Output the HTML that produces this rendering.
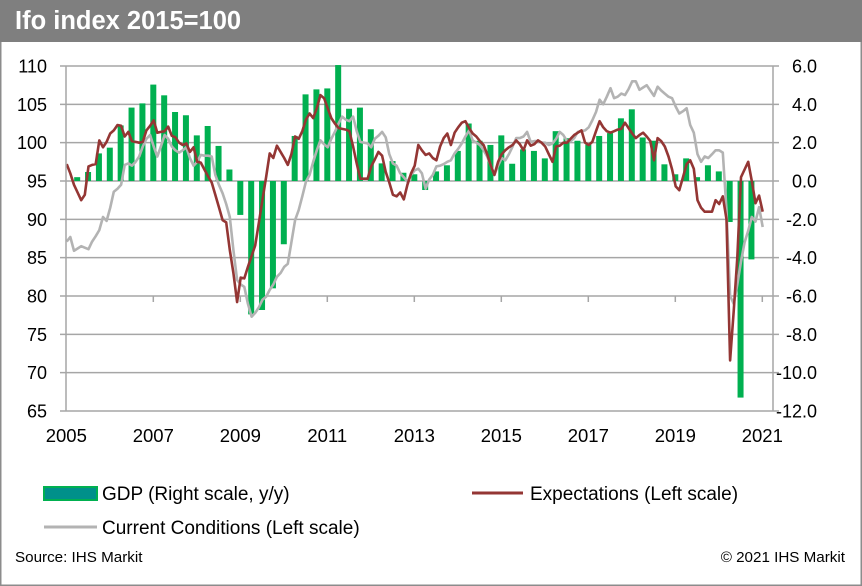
<!DOCTYPE html>
<html><head><meta charset="utf-8"><style>
body{margin:0;background:#fff;}
#wrap{position:relative;width:862px;height:586px;overflow:hidden;font-family:"Liberation Sans",Arial,sans-serif;}
</style></head><body>
<div id="wrap">
<svg id="chart" width="862" height="586" xmlns="http://www.w3.org/2000/svg">
<rect x="0.75" y="0.75" width="860.5" height="584.5" fill="#fff" stroke="#8c8c8c" stroke-width="1.5"/>
<rect x="0" y="0" width="862" height="42" fill="#7f7f7f"/>
<text x="15" y="29" fill="#fff" font-size="25.5" font-weight="bold">Ifo index 2015=100</text>
<g id="grid"></g><g id="bars"></g><g id="lines"></g><g id="axes"></g>
<rect x="44" y="487" width="53" height="13" fill="#00908a" stroke="#00b050" stroke-width="2"/>
<text x="102" y="500" font-size="19">GDP (Right scale, y/y)</text>
<line x1="472" y1="493" x2="523" y2="493" stroke="#943634" stroke-width="3"/>
<text x="530" y="500" font-size="19">Expectations (Left scale)</text>
<line x1="44" y1="527" x2="97" y2="527" stroke="#b3b3b3" stroke-width="3"/>
<text x="102" y="534" font-size="19">Current Conditions (Left scale)</text>
<text x="15" y="562" font-size="15.2">Source: IHS Markit</text>
<text x="845" y="562" font-size="15.2" text-anchor="end">© 2021 IHS Markit</text>
</svg>
</div>
<script>
const leftTicks=[110,105,100,95,90,85,80,75,70,65];
const rightTicks=["6.0","4.0","2.0","0.0","-2.0","-4.0","-6.0","-8.0","-10.0","-12.0"];
const yearLabels=["2005","2007","2009","2011","2013","2015","2017","2019","2021"];
const gdp=[0.2,0.47,1.44,1.74,2.9,3.83,4.05,5.03,4.47,3.6,3.43,2.38,2.87,1.83,0.6,-1.77,-6.96,-6.73,-5.6,-3.3,2.35,4.52,4.78,4.83,6.05,3.77,3.83,2.7,0.92,1.04,0.43,0.35,-0.47,0.5,0.82,1.57,3.0,2.1,1.88,2.38,0.9,1.65,1.57,1.18,2.6,2.23,2.1,1.9,2.35,2.5,3.27,3.74,2.27,2.1,0.87,0.35,1.18,0.2,0.82,0.5,-2.14,-11.3,-4.09];
const expectations=[97.2,96.0,94.5,93.5,92.5,93.2,96.9,97.1,97.2,100.3,99.4,100.1,
101.2,101.6,102.3,102.2,100.8,101.4,100.2,100.1,100.0,100.1,101.6,102.2,
102.9,101.3,101.4,101.5,102.1,100.9,100.7,100.0,99.7,99.9,98.8,99.4,
97.5,97.4,96.5,95.6,94.8,93.2,91.6,89.9,89.6,86.0,83.0,79.2,
82.4,82.3,83.8,85.2,86.6,89.5,92.5,95.5,98.6,98.0,99.6,98.8,
98.0,97.1,98.5,100.8,100.5,101.5,103.0,103.8,103.2,104.5,106.2,105.8,
104.5,103.2,102.5,101.9,101.8,101.7,101.5,99.5,97.3,95.3,95.3,95.3,
96.9,97.8,98.8,98.3,96.2,94.8,93.2,93.0,93.5,92.6,94.5,96.0,
97.0,99.7,99.0,98.4,98.6,98.0,97.7,99.5,100.6,101.2,99.7,101.3,
102.0,102.6,102.8,101.9,101.2,100.8,100.2,99.7,98.5,97.0,95.8,97.5,
98.5,99.0,99.4,99.7,100.3,99.8,99.0,100.3,99.6,99.8,100.3,100.0,
99.5,98.5,97.5,99.5,99.6,100.0,100.0,100.5,101.0,101.3,101.6,100.0,
99.7,100.1,101.5,102.8,102.0,101.5,101.3,101.5,101.7,101.8,102.6,101.9,
101.2,100.6,101.0,101.3,100.8,100.2,97.7,100.6,100.2,99.5,98.2,96.5,
94.3,93.8,95.5,97.2,97.7,96.6,92.5,91.5,91.0,91.0,91.0,92.5,
92.0,93.0,90.0,71.6,78.0,85.0,95.5,96.5,97.5,95.0,92.1,93.1,
91.0];
const currentConditions=[87.1,87.7,85.9,86.2,86.5,86.3,86.1,87.1,87.8,88.6,90.3,89.8,
91.5,93.6,94.0,94.5,97.1,97.3,97.0,97.5,98.2,99.5,100.5,101.0,
99.5,98.2,99.5,101.0,100.5,99.5,99.0,98.7,99.0,99.4,98.0,97.0,
97.5,98.4,98.3,98.3,98.2,95.8,94.5,93.4,92.0,90.3,86.0,82.1,
81.5,81.2,79.0,77.3,77.8,78.5,79.5,79.9,80.8,81.5,82.5,83.0,
83.8,84.2,87.0,89.9,91.2,93.0,94.9,95.8,97.5,99.0,100.3,99.8,
99.4,100.5,101.4,102.5,103.4,103.0,102.8,103.4,101.5,100.1,100.0,99.9,
99.4,100.5,100.9,101.4,100.7,98.5,97.3,97.0,96.0,95.5,94.9,95.8,
96.4,96.6,96.0,94.0,95.2,95.8,96.9,97.0,97.2,97.5,97.7,98.6,
99.2,99.9,100.8,101.6,100.3,100.0,99.7,99.0,98.2,97.0,95.8,97.0,
98.0,97.7,98.5,99.5,100.6,100.6,100.8,101.4,100.1,100.2,100.2,100.0,
100.0,99.7,99.9,100.5,101.4,101.0,100.2,100.2,100.6,101.4,101.5,101.6,
102.0,102.9,104.0,105.6,105.0,106.0,107.1,105.8,106.0,106.4,106.2,107.0,
108.0,108.0,106.9,107.2,107.5,106.8,106.1,107.3,106.8,106.4,106.0,105.8,
104.7,103.8,104.1,104.5,102.3,101.3,98.5,97.5,98.2,98.0,98.5,99.0,
99.0,98.7,91.2,80.0,79.0,81.5,84.5,87.0,88.5,90.3,89.7,91.6,
89.0];

const NS="http://www.w3.org/2000/svg";
const X0=66.3, YW=43.5, L=66, R=773, T=66, B=411;
const yL=v=>T+(110-v)*(B-T)/45;
const yR=v=>T+(6-v)*(B-T)/18;
const xMonth=m=>66.7+m*YW/12;
const xQuarter=q=>X0+(q+1)*YW/4;
function mk(tag,attrs,parent){const e=document.createElementNS(NS,tag);for(const k in attrs)e.setAttribute(k,attrs[k]);parent.appendChild(e);return e;}
const grid=document.getElementById('grid'),axes=document.getElementById('axes'),bars=document.getElementById('bars'),lines=document.getElementById('lines');
leftTicks.forEach((v,i)=>{
  const y=yL(v);
  const g=mk('line',{x1:60,y1:y,x2:R+6,y2:y,stroke:'#a6a6a6','stroke-width':1.5},grid);
  
  
  const t=mk('text',{x:47,y:y+6.5,'font-size':18,'text-anchor':'end'},axes);
  t.textContent=v;
  
  
  const r=mk('text',{x:817,y:yR(6-2*i)+6.5,'font-size':18,'text-anchor':'end'},axes);
  r.textContent=rightTicks[i];
  
  
});
const la=mk('line',{x1:L,y1:T,x2:L,y2:B,stroke:'#a6a6a6','stroke-width':1.5},axes);


const ra=mk('line',{x1:R,y1:T,x2:R,y2:B,stroke:'#a6a6a6','stroke-width':1.5},axes);


yearLabels.forEach((lab,i)=>{
  const x=X0+i*2*YW;
  if(i>0){const tk=mk('line',{x1:x,y1:yL(80),x2:x,y2:yL(80)+6,stroke:'#a6a6a6','stroke-width':1.5},axes);
  
  }
  const t=mk('text',{x:x,y:442,'font-size':18.5,'text-anchor':'middle'},axes);
  t.textContent=lab;
  
  
});
gdp.forEach((v,q)=>{
  const x=xQuarter(q),y0=yR(0),y=yR(v);
  const b=mk('rect',{x:x-3,y:Math.min(y0,y),width:6,height:Math.abs(y-y0),fill:'#00b050'},bars);
  
  
});
function line(arr,color,name){
  const p=mk('polyline',{points:arr.map((v,m)=>xMonth(m).toFixed(1)+','+yL(v).toFixed(1)).join(' '),fill:'none',stroke:color,'stroke-width':2.6,'stroke-linejoin':'round'},lines);
  
  
}
line(currentConditions,'#b3b3b3','current-conditions-line');
line(expectations,'#943634','expectations-line');
</script>
</body></html>
